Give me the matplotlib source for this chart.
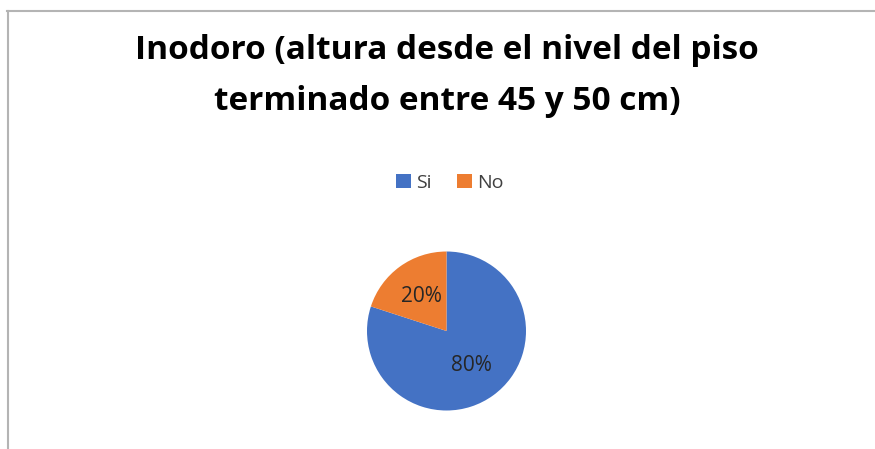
import matplotlib
matplotlib.use('Agg')
import matplotlib.pyplot as plt
from matplotlib.lines import Line2D
from matplotlib.patches import Patch

# datos
labels = ['Si', 'No']
values = [80, 20]
colors = ['#4472C4', '#ED7D31']
title = 'Inodoro (altura desde el nivel del piso\nterminado entre 45 y 50 cm)'

plt.rcParams['font.family'] = ['Open Sans', 'DejaVu Sans']

W, H = 875, 449
fig = plt.figure(figsize=(W/100, H/100), dpi=100)
fig.patch.set_facecolor('white')

# borde del grafico (solo arriba e izquierda visibles)
fig.add_artist(Line2D([7/W, 1], [1-10.5/H]*2, color='#b4b4b4', lw=1.5))
fig.add_artist(Line2D([7.5/W]*2, [0, 1-10.5/H], color='#b4b4b4', lw=1.5))

fig.text(447/W, 1-76/H, title, ha='center', va='center', fontsize=24,
         fontweight='bold', linespacing=1.75, color='black')

# pastel
cx, cy, r = 446.5, 331, 79.5
ax = fig.add_axes([(cx-r)/W, (H-cy-r)/H, 2*r/W, 2*r/H])
wedges, texts, autotexts = ax.pie(values, colors=colors, startangle=90, counterclock=False,
                                  autopct='%1.0f%%', pctdistance=0.54,
                                  textprops={'fontsize': 15, 'color': '#262626'})
ax.set_xlim(-1, 1); ax.set_ylim(-1, 1)

handles = [Patch(facecolor=c, label=l) for c, l in zip(colors, labels)]
fig.legend(handles=handles, loc='center', bbox_to_anchor=(450/W, 1-183/H), ncol=2,
           frameon=False, fontsize=14, handlelength=0.75, handleheight=0.75,
           handletextpad=0.3, columnspacing=1.3, labelcolor='#404040')

fig.savefig('out.png', dpi=100)
